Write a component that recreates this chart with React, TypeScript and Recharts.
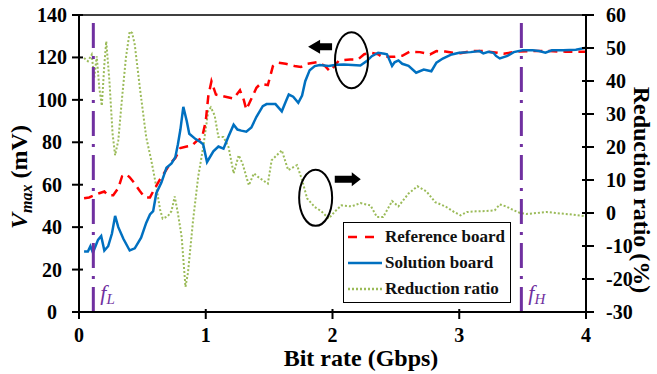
import React from 'react';
import { Legend, Line, LineChart, ReferenceDot, ReferenceLine, XAxis, YAxis } from 'recharts';

const FONT = '"Liberation Serif", "Times New Roman", serif';
const PURPLE = '#7030A0';

// Reference board: bit rate (Gbps) / Vmax (mV)
const refRate = [
  0.04, 0.08, 0.12, 0.16, 0.2, 0.23, 0.27, 0.31, 0.34, 0.37, 0.4, 0.44, 0.48, 0.52, 0.56, 0.6,
  0.64, 0.68, 0.72, 0.76, 0.8, 0.85, 0.89, 0.93, 0.97, 1.0, 1.02, 1.045, 1.08, 1.13, 1.22, 1.27,
  1.3, 1.32, 1.36, 1.4, 1.43, 1.49, 1.53, 1.57, 1.63, 1.7, 1.75, 1.8, 1.88, 1.94, 1.98, 2.05,
  2.14, 2.2, 2.25, 2.3, 2.36, 2.39, 2.49, 2.55, 2.61, 2.69, 2.77, 2.82, 2.89, 2.95, 3.01, 3.09,
  3.19, 3.3, 3.35, 3.45, 3.58, 3.71, 3.84, 4.0,
];
const refVmax = [
  53.6, 54, 55, 56, 56.8, 55, 55, 58.4, 64, 65, 63.5, 60.5, 57, 54, 54, 58.5,
  62.6, 66.2, 70, 72.6, 77.3, 78, 78.4, 80.7, 82, 90, 101.7, 108.8, 102.5, 101.8, 100.6, 104.5,
  100, 95.4, 100.5, 105.7, 107.5, 107, 115.9, 117.5, 117, 116, 115.5, 117, 117.8, 116, 113.5, 118.5,
  119, 119, 121.5, 122.2, 121.5, 120.3, 120.3, 120.8, 122.7, 122.5, 121.4, 123, 122.8, 122.2, 122, 123,
  123, 122.2, 121.7, 122.7, 123, 123, 122.7, 122.7,
];

// Solution board: bit rate (Gbps) / Vmax (mV)
const solRate = [
  0.04, 0.07, 0.09, 0.11, 0.13, 0.15, 0.175, 0.2, 0.23, 0.26, 0.285, 0.31, 0.35, 0.4, 0.44, 0.49,
  0.53, 0.56, 0.585, 0.61, 0.65, 0.69, 0.73, 0.76, 0.78, 0.8, 0.823, 0.85, 0.87, 0.92, 0.96, 0.98,
  1.01, 1.06, 1.1, 1.14, 1.18, 1.22, 1.25, 1.28, 1.32, 1.36, 1.4, 1.45, 1.48, 1.55, 1.6, 1.63,
  1.655, 1.69, 1.73, 1.76, 1.785, 1.82, 1.86, 1.9, 1.97, 2.03, 2.09, 2.22, 2.27, 2.31, 2.36, 2.41,
  2.43, 2.47, 2.49, 2.52, 2.55, 2.6, 2.66, 2.72, 2.78, 2.82, 2.87, 2.94, 3.0, 3.09, 3.16, 3.19,
  3.23, 3.27, 3.29, 3.32, 3.38, 3.43, 3.5, 3.58, 3.63, 3.68, 3.73, 3.82, 3.92, 4.0,
];
const solVmax = [
  28.5, 28.5, 31, 28, 31, 34, 35.8, 29, 31, 37, 45.3, 40, 34.5, 29, 30, 35,
  42, 46, 47.5, 56, 61, 68, 70, 73, 79, 86, 96.7, 90, 84, 81.5, 80, 79,
  70.7, 75.7, 78, 77, 82.8, 88.3, 86, 85.5, 85, 87, 92, 97, 98, 98, 94.6, 99,
  102.5, 101.5, 98.6, 102, 108.8, 114, 115.9, 116.4, 116, 116.5, 116.7, 116.2, 118.3, 120.6, 122.2, 121.7,
  121.5, 116, 117.7, 118.6, 117, 116, 112.8, 114.3, 113.5, 117.5, 119.5, 121.4, 122.2, 122.5, 123, 121.9,
  122.7, 122.2, 120.7, 119.5, 120.7, 122.5, 123.4, 123.4, 123, 122.2, 123.4, 123.4, 123.6, 124.6,
];

// Reduction ratio: bit rate (Gbps) / ratio (%)
const ratioRate = [
  0.04, 0.07, 0.1, 0.12, 0.14, 0.16, 0.18, 0.2, 0.215, 0.24, 0.265, 0.285, 0.31, 0.34, 0.37, 0.4,
  0.42, 0.44, 0.48, 0.53, 0.57, 0.6, 0.64, 0.66, 0.7, 0.73, 0.755, 0.78, 0.81, 0.84, 0.86, 0.9,
  0.94, 0.98, 1.02, 1.04, 1.07, 1.1, 1.14, 1.18, 1.22, 1.26, 1.29, 1.34, 1.38, 1.41, 1.49, 1.52,
  1.6, 1.65, 1.72, 1.76, 1.8, 1.86, 1.91, 1.97, 2.02, 2.07, 2.15, 2.22, 2.3, 2.35, 2.4, 2.47,
  2.52, 2.6, 2.67, 2.74, 2.81, 2.89, 2.96, 3.01, 3.06, 3.13, 3.21, 3.28, 3.32, 3.37, 3.42, 3.48,
  3.53, 3.61, 3.69, 3.76, 3.87, 4.0,
];
const ratioPct = [
  47, 46, 48, 41, 47.5, 38, 32.5, 45, 52, 40, 24, 17.5, 22, 35, 47, 55,
  54.5, 51, 38, 23, 16, 10, 1, -1.7, -1, 0.6, 5, 0, -7.3, -22.4, -18, -2.2,
  10.9, 20, 31, 32, 29.6, 23, 23, 20, 12, 17.5, 15, 8.4, 12, 11, 8.9, 16,
  19, 13, 14.5, 10, 4.4, 1.8, 0.6, -1.7, 0.5, 2.3, 2, 3, 2.3, -1.2, -1.2, 3.6,
  2, 5.9, 8.1, 6.6, 3.3, 2, 0.3, -0.7, 0.3, 0.5, 0.6, 0.8, 2.6, 2, 1, 0,
  -0.3, 0, 0.3, 0, -0.4, -1,
];

const rateTicks = [0, 1, 2, 3, 4];
const vmaxTicks = [0, 20, 40, 60, 80, 100, 120, 140];
const ratioTicks = [-30, -20, -10, 0, 10, 20, 30, 40, 50, 60];

const fLow = 0.113;
const fHigh = 3.49;

const refData = refRate.map((x, i) => ({ x, v: refVmax[i] }));
const solData = solRate.map((x, i) => ({ x, v: solVmax[i] }));
const ratioData = ratioRate.map((x, i) => ({ x, v: ratioPct[i] }));

const seriesStyle = [
  { name: 'Reference board', color: '#FF0000', dash: '9 6', legendDash: '9 8' },
  { name: 'Solution board', color: '#0070C0', dash: undefined, legendDash: undefined },
  { name: 'Reduction ratio', color: '#9BBB59', dash: '2 2', legendDash: '2 2' },
];

const tickText = { fontFamily: FONT, fontWeight: 'bold' as const, fontSize: 20, fill: '#000' };
const titleText = { fontFamily: FONT, fontWeight: 'bold' as const, fontSize: 24, fill: '#000' };

const RateTick = ({ x, y, payload }: any) => (
  <g>
    <line x1={x} x2={x} y1={y - 5} y2={y + 5} stroke="#000" strokeWidth={2} />
    <text x={x} y={y + 28} textAnchor="middle" {...tickText}>{payload.value}</text>
  </g>
);

const VmaxTick = ({ x, y, payload }: any) => (
  <g>
    <line x1={x - 5} x2={x + 6} y1={y} y2={y} stroke="#000" strokeWidth={2} />
    <text x={x - 25} y={y + 7} textAnchor="middle" {...tickText}>{payload.value}</text>
  </g>
);

const RatioTick = ({ x, y, payload }: any) => (
  <g>
    <line x1={x - 6} x2={x + 6} y1={y} y2={y} stroke="#000" strokeWidth={2} />
    <text x={x + 18} y={y + 7} textAnchor="start" {...tickText}>{payload.value}</text>
  </g>
);

const rateTitle = () => (
  <text x={361} y={366} textAnchor="middle" {...titleText}>Bit rate (Gbps)</text>
);

const vmaxTitle = () => (
  <text transform="translate(27,177) rotate(-90)" textAnchor="middle" {...titleText}>
    <tspan fontStyle="italic">V</tspan>
    <tspan fontStyle="italic" fontSize={16} dy={5}>max</tspan>
    <tspan dy={-5}> (mV)</tspan>
  </text>
);

const ratioTitle = () => (
  <text transform="translate(634,190) rotate(90)" textAnchor="middle" {...titleText}>Reduction ratio (%)</text>
);

const freqLabel = (sub: string) => ({ viewBox }: any) => (
  <text x={viewBox.x + 7} y={viewBox.y + viewBox.height - 12} fill={PURPLE} fontFamily={FONT} fontStyle="italic" fontSize={22}>
    f<tspan fontSize={15} dy={4}>{sub}</tspan>
  </text>
);

const Ellipse = ({ cx, cy }: any) => (
  <ellipse cx={cx} cy={cy} rx={16.5} ry={28} fill="none" stroke="#000" strokeWidth={2} />
);

// arrow glyph anchored at the base of its head; dir -1 points left, 1 points right
const arrow = (dir: number, shaft: number, head: number) => ({ cx, cy }: any) => {
  const pts = [
    [0, -3.5], [-dir * shaft, -3.5], [-dir * shaft, 3.5], [0, 3.5], [0, 7], [dir * head, 0], [0, -7],
  ]
    .map(([dx, dy]) => `${cx + dx},${cy + dy}`)
    .join(' ');
  return <polygon points={pts} fill="#000" />;
};

const LegendBox = () => (
  <div
    style={{
      boxSizing: 'border-box',
      width: 168,
      height: 81,
      border: '1.5px solid #000',
      background: '#fff',
      paddingTop: 1,
      fontFamily: FONT,
      fontWeight: 'bold',
      fontSize: 17,
      color: '#111',
    }}
  >
    {seriesStyle.map((s) => (
      <div key={s.name} style={{ display: 'flex', alignItems: 'center', height: 26 }}>
        <svg width={38} height={10} style={{ marginLeft: 1, marginRight: 2 }}>
          <line x1={3} x2={37} y1={5} y2={5} stroke={s.color} strokeWidth={2.5} strokeDasharray={s.legendDash} />
        </svg>
        <span>{s.name}</span>
      </div>
    ))}
  </div>
);

export default function App() {
  return (
    <div style={{ position: 'absolute', left: 0, top: 0, width: 657, height: 374, background: '#fff' }}>
      <LineChart width={657} height={374} margin={{ top: 15, right: 0, bottom: 0, left: 0 }}>
        <XAxis
          type="number"
          dataKey="x"
          domain={[0, 4]}
          ticks={rateTicks}
          height={62}
          tickSize={0}
          tickLine={false}
          axisLine={{ stroke: '#000', strokeWidth: 2 }}
          tick={<RateTick />}
          label={rateTitle}
        />
        <YAxis
          yAxisId="left"
          orientation="left"
          width={79}
          domain={[0, 140]}
          ticks={vmaxTicks}
          tickSize={0}
          tickLine={false}
          axisLine={{ stroke: '#000', strokeWidth: 2 }}
          tick={<VmaxTick />}
          label={vmaxTitle}
        />
        <YAxis
          yAxisId="right"
          orientation="right"
          width={71}
          domain={[-30, 60]}
          ticks={ratioTicks}
          tickSize={0}
          tickLine={false}
          axisLine={{ stroke: '#000', strokeWidth: 2 }}
          tick={<RatioTick />}
          label={ratioTitle}
        />
        <ReferenceLine yAxisId="left" y={140} stroke="#000" strokeWidth={1.5} />
        <Line
          yAxisId="right"
          data={ratioData}
          dataKey="v"
          name={seriesStyle[2].name}
          type="linear"
          stroke={seriesStyle[2].color}
          strokeWidth={2}
          strokeDasharray={seriesStyle[2].dash}
          dot={false}
          isAnimationActive={false}
        />
        <Line
          yAxisId="left"
          data={refData}
          dataKey="v"
          name={seriesStyle[0].name}
          type="linear"
          stroke={seriesStyle[0].color}
          strokeWidth={2.5}
          strokeDasharray={seriesStyle[0].dash}
          dot={false}
          isAnimationActive={false}
        />
        <Line
          yAxisId="left"
          data={solData}
          dataKey="v"
          name={seriesStyle[1].name}
          type="linear"
          stroke={seriesStyle[1].color}
          strokeWidth={2.5}
          dot={false}
          isAnimationActive={false}
        />
        <ReferenceLine
          yAxisId="left"
          x={fLow}
          stroke={PURPLE}
          strokeWidth={3}
          strokeDasharray="25 8 3 8"
          label={freqLabel('L')}
        />
        <ReferenceLine
          yAxisId="left"
          x={fHigh}
          stroke={PURPLE}
          strokeWidth={3}
          strokeDasharray="25 8 3 8"
          label={freqLabel('H')}
        />
        <ReferenceDot yAxisId="left" x={2.15} y={118.7} shape={<Ellipse />} />
        <ReferenceDot yAxisId="left" x={1.902} y={125} shape={arrow(-1, 12, 12)} />
        <ReferenceDot yAxisId="right" x={1.867} y={4.6} shape={<Ellipse />} />
        <ReferenceDot yAxisId="right" x={2.152} y={10.2} shape={arrow(1, 17, 9)} />
        <Legend
          layout="vertical"
          align="center"
          verticalAlign="middle"
          content={<LegendBox />}
          wrapperStyle={{ left: 343, top: 222, width: 168, height: 81 }}
        />
      </LineChart>
    </div>
  );
}
